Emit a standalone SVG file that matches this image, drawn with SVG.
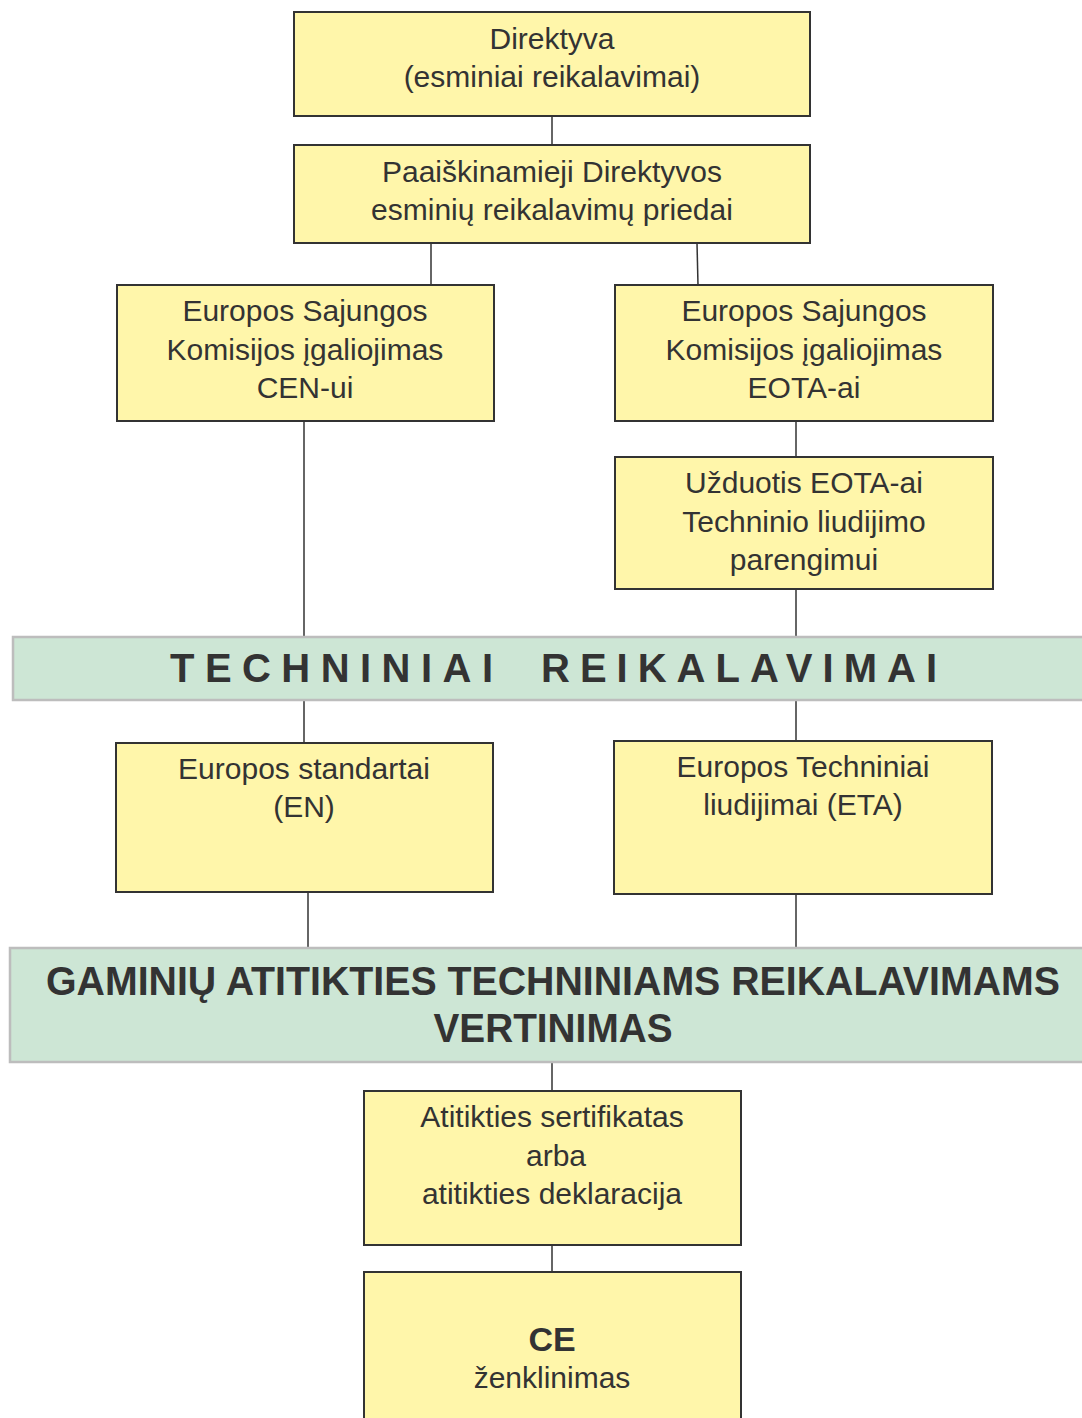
<svg xmlns="http://www.w3.org/2000/svg" width="1082" height="1418" viewBox="0 0 1082 1418">
<style>
.box{fill:#FFF6AA;stroke:#333;stroke-width:2}
.band{fill:#CDE6D5;stroke:#BDBDBD;stroke-width:2.5}
.t{font-family:"Liberation Sans",Arial,sans-serif;font-size:30px;fill:#333;text-anchor:middle}
.b{font-family:"Liberation Sans",Arial,sans-serif;font-weight:bold;fill:#333;text-anchor:middle}
.s{font-family:"Liberation Sans",Arial,sans-serif;font-weight:bold;fill:#333;font-size:40px}
.c{stroke:#333;stroke-width:1.5;fill:none}
</style>
<rect width="1082" height="1418" fill="#fff"/>
<g id="connectors">
<line class="c" x1="552" y1="116" x2="552" y2="145"/>
<line class="c" x1="431" y1="243" x2="431" y2="285"/>
<line class="c" x1="697" y1="243" x2="698" y2="285"/>
<line class="c" x1="304" y1="421" x2="304" y2="637"/>
<line class="c" x1="796" y1="421" x2="796" y2="457"/>
<line class="c" x1="796" y1="589" x2="796" y2="637"/>
<line class="c" x1="304" y1="700" x2="304" y2="743"/>
<line class="c" x1="796" y1="700" x2="796" y2="741"/>
<line class="c" x1="308" y1="892" x2="308" y2="948"/>
<line class="c" x1="796" y1="894" x2="796" y2="948"/>
<line class="c" x1="552" y1="1062" x2="552" y2="1091"/>
<line class="c" x1="552" y1="1245" x2="552" y2="1272"/>
</g>
<g id="n1"><rect class="box" x="294" y="12" width="516" height="104"/>
<text class="t" x="552" y="49">Direktyva</text>
<text class="t" x="552" y="87">(esminiai reikalavimai)</text></g>
<g id="n2"><rect class="box" x="294" y="145" width="516" height="98"/>
<text class="t" x="552" y="182">Paaiškinamieji Direktyvos</text>
<text class="t" x="552" y="220">esminių reikalavimų priedai</text></g>
<g id="n3"><rect class="box" x="117" y="285" width="377" height="136"/>
<text class="t" x="305" y="321">Europos Sajungos</text>
<text class="t" x="305" y="360">Komisijos įgaliojimas</text>
<text class="t" x="305" y="398">CEN-ui</text></g>
<g id="n4"><rect class="box" x="615" y="285" width="378" height="136"/>
<text class="t" x="804" y="321">Europos Sajungos</text>
<text class="t" x="804" y="360">Komisijos įgaliojimas</text>
<text class="t" x="804" y="398">EOTA-ai</text></g>
<g id="n5"><rect class="box" x="615" y="457" width="378" height="132"/>
<text class="t" x="804" y="493">Užduotis EOTA-ai</text>
<text class="t" x="804" y="532">Techninio liudijimo</text>
<text class="t" x="804" y="570">parengimui</text></g>
<g id="n6"><rect class="band" x="13" y="637" width="1075" height="63"/>
<text class="s" x="170" y="682" textLength="323" lengthAdjust="spacing">TECHNINIAI</text>
<text class="s" x="541" y="682" textLength="396" lengthAdjust="spacing">REIKALAVIMAI</text></g>
<g id="n7"><rect class="box" x="116" y="743" width="377" height="149"/>
<text class="t" x="304" y="779">Europos standartai</text>
<text class="t" x="304" y="817">(EN)</text></g>
<g id="n8"><rect class="box" x="614" y="741" width="378" height="153"/>
<text class="t" x="803" y="777">Europos Techniniai</text>
<text class="t" x="803" y="815">liudijimai (ETA)</text></g>
<g id="n9"><rect class="band" x="10" y="948" width="1078" height="114"/>
<text class="b" x="553" y="995" font-size="40" textLength="1014" lengthAdjust="spacingAndGlyphs">GAMINIŲ ATITIKTIES TECHNINIAMS REIKALAVIMAMS</text>
<text class="b" x="553" y="1042" font-size="40" textLength="239" lengthAdjust="spacingAndGlyphs">VERTINIMAS</text></g>
<g id="n10"><rect class="box" x="364" y="1091" width="377" height="154"/>
<text class="t" x="552" y="1127">Atitikties sertifikatas</text>
<text class="t" x="556" y="1166">arba</text>
<text class="t" x="552" y="1204">atitikties deklaracija</text></g>
<g id="n11"><rect class="box" x="364" y="1272" width="377" height="160"/>
<text class="b" x="552" y="1351" font-size="34">CE</text>
<text class="t" x="552" y="1388">ženklinimas</text></g>
</svg>
